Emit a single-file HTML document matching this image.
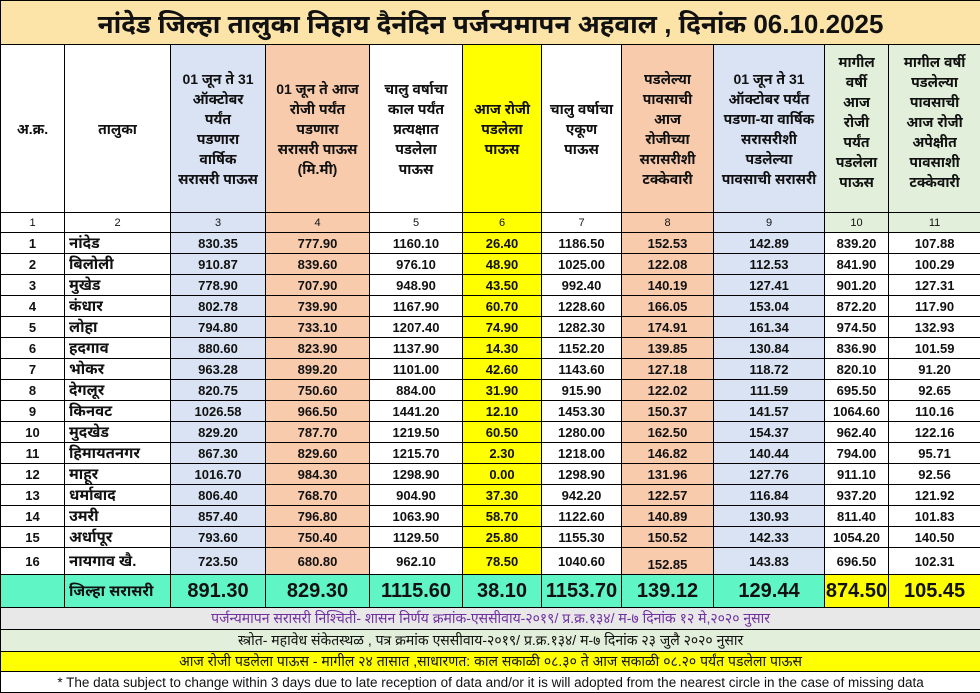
<!DOCTYPE html>
<html><head><meta charset="utf-8"><style>
body{margin:0;width:980px;height:691px;overflow:hidden;background:#fff;font-family:"Liberation Sans","Noto Sans",sans-serif;}
table{border-collapse:collapse;table-layout:fixed;position:absolute;left:0;top:0;width:980px;}
td{border:1px solid #000;padding:0;text-align:center;font-size:13px;font-weight:bold;color:#111;overflow:hidden;white-space:nowrap;}
.t{background:#fce4a8;font-size:26px;height:43px;}
.h td{height:167px;font-size:14px;white-space:nowrap;}
.h td div{height:166px;display:flex;align-items:center;justify-content:center;line-height:20px;overflow:hidden;}
.h td div.top{align-items:flex-start;padding-top:6px;height:160px;}
.n td{height:19px;font-weight:normal;font-size:11px;}
.d td{height:20px;}
.d td:nth-child(2){text-align:left;padding-left:4px;font-size:15px;}
.b{background:#dae3f3}.o{background:#f8cbad}.y{background:#ffff00}.g{background:#e2efda}
.tot td{height:32px;background:#5ff5c4;font-size:20px;}
.tot td.y{background:#ffff00}
.f td{font-weight:normal;font-size:14px;}
</style></head><body>
<table>
<colgroup><col style="width:64px"><col style="width:106px"><col style="width:95px"><col style="width:104px"><col style="width:93px"><col style="width:79px"><col style="width:80px"><col style="width:92px"><col style="width:111px"><col style="width:64px"><col style="width:92px"></colgroup>
<tr><td class="t" colspan="11">नांदेड जिल्हा तालुका निहाय दैनंदिन पर्जन्यमापन अहवाल , दिनांक 06.10.2025</td></tr>
<tr class="h"><td><div>अ.क्र.</div></td><td><div>तालुका</div></td><td class="b"><div>01 जून ते 31<br>ऑक्टोबर<br>पर्यंत<br>पडणारा<br>वार्षिक<br>सरासरी पाऊस</div></td><td class="o"><div>01 जून ते आज<br>रोजी पर्यंत<br>पडणारा<br>सरासरी पाऊस<br>(मि.मी)</div></td><td><div>चालु वर्षाचा<br>काल पर्यंत<br>प्रत्यक्षात<br>पडलेला<br>पाऊस</div></td><td class="y"><div>आज रोजी<br>पडलेला<br>पाऊस</div></td><td><div>चालु वर्षाचा<br>एकूण<br>पाऊस</div></td><td class="o"><div>पडलेल्या<br>पावसाची<br>आज<br>रोजीच्या<br>सरासरीशी<br>टक्केवारी</div></td><td class="b"><div>01 जून ते 31<br>ऑक्टोबर पर्यंत<br>पडणा-या वार्षिक<br>सरासरीशी<br>पडलेल्या<br>पावसाची सरासरी</div></td><td class="g"><div class="top">मागील<br>वर्षी<br>आज<br>रोजी<br>पर्यंत<br>पडलेला<br>पाऊस</div></td><td class="g"><div class="top">मागील वर्षी<br>पडलेल्या<br>पावसाची<br>आज रोजी<br>अपेक्षीत<br>पावसाशी<br>टक्केवारी</div></td></tr>
<tr class="n"><td>1</td><td>2</td><td class="b">3</td><td class="o">4</td><td>5</td><td class="y">6</td><td>7</td><td class="o">8</td><td class="b">9</td><td class="g">10</td><td class="g">11</td></tr>
<tr class="d"><td>1</td><td>नांदेड</td><td class="b">830.35</td><td class="o">777.90</td><td>1160.10</td><td class="y">26.40</td><td>1186.50</td><td class="o">152.53</td><td class="b">142.89</td><td>839.20</td><td>107.88</td></tr>
<tr class="d"><td>2</td><td>बिलोली</td><td class="b">910.87</td><td class="o">839.60</td><td>976.10</td><td class="y">48.90</td><td>1025.00</td><td class="o">122.08</td><td class="b">112.53</td><td>841.90</td><td>100.29</td></tr>
<tr class="d"><td>3</td><td>मुखेड</td><td class="b">778.90</td><td class="o">707.90</td><td>948.90</td><td class="y">43.50</td><td>992.40</td><td class="o">140.19</td><td class="b">127.41</td><td>901.20</td><td>127.31</td></tr>
<tr class="d"><td>4</td><td>कंधार</td><td class="b">802.78</td><td class="o">739.90</td><td>1167.90</td><td class="y">60.70</td><td>1228.60</td><td class="o">166.05</td><td class="b">153.04</td><td>872.20</td><td>117.90</td></tr>
<tr class="d"><td>5</td><td>लोहा</td><td class="b">794.80</td><td class="o">733.10</td><td>1207.40</td><td class="y">74.90</td><td>1282.30</td><td class="o">174.91</td><td class="b">161.34</td><td>974.50</td><td>132.93</td></tr>
<tr class="d"><td>6</td><td>हदगाव</td><td class="b">880.60</td><td class="o">823.90</td><td>1137.90</td><td class="y">14.30</td><td>1152.20</td><td class="o">139.85</td><td class="b">130.84</td><td>836.90</td><td>101.59</td></tr>
<tr class="d"><td>7</td><td>भोकर</td><td class="b">963.28</td><td class="o">899.20</td><td>1101.00</td><td class="y">42.60</td><td>1143.60</td><td class="o">127.18</td><td class="b">118.72</td><td>820.10</td><td>91.20</td></tr>
<tr class="d"><td>8</td><td>देगलूर</td><td class="b">820.75</td><td class="o">750.60</td><td>884.00</td><td class="y">31.90</td><td>915.90</td><td class="o">122.02</td><td class="b">111.59</td><td>695.50</td><td>92.65</td></tr>
<tr class="d"><td>9</td><td>किनवट</td><td class="b">1026.58</td><td class="o">966.50</td><td>1441.20</td><td class="y">12.10</td><td>1453.30</td><td class="o">150.37</td><td class="b">141.57</td><td>1064.60</td><td>110.16</td></tr>
<tr class="d"><td>10</td><td>मुदखेड</td><td class="b">829.20</td><td class="o">787.70</td><td>1219.50</td><td class="y">60.50</td><td>1280.00</td><td class="o">162.50</td><td class="b">154.37</td><td>962.40</td><td>122.16</td></tr>
<tr class="d"><td>11</td><td>हिमायतनगर</td><td class="b">867.30</td><td class="o">829.60</td><td>1215.70</td><td class="y">2.30</td><td>1218.00</td><td class="o">146.82</td><td class="b">140.44</td><td>794.00</td><td>95.71</td></tr>
<tr class="d"><td>12</td><td>माहूर</td><td class="b">1016.70</td><td class="o">984.30</td><td>1298.90</td><td class="y">0.00</td><td>1298.90</td><td class="o">131.96</td><td class="b">127.76</td><td>911.10</td><td>92.56</td></tr>
<tr class="d"><td>13</td><td>धर्माबाद</td><td class="b">806.40</td><td class="o">768.70</td><td>904.90</td><td class="y">37.30</td><td>942.20</td><td class="o">122.57</td><td class="b">116.84</td><td>937.20</td><td>121.92</td></tr>
<tr class="d"><td>14</td><td>उमरी</td><td class="b">857.40</td><td class="o">796.80</td><td>1063.90</td><td class="y">58.70</td><td>1122.60</td><td class="o">140.89</td><td class="b">130.93</td><td>811.40</td><td>101.83</td></tr>
<tr class="d"><td>15</td><td>अर्धापूर</td><td class="b">793.60</td><td class="o">750.40</td><td>1129.50</td><td class="y">25.80</td><td>1155.30</td><td class="o">150.52</td><td class="b">142.33</td><td>1054.20</td><td>140.50</td></tr>
<tr class="d"><td style="height:25px">16</td><td>नायगाव खै.</td><td class="b">723.50</td><td class="o">680.80</td><td>962.10</td><td class="y">78.50</td><td>1040.60</td><td class="o" style="padding-top:6px">152.85</td><td class="b">143.83</td><td>696.50</td><td>102.31</td></tr>
<tr class="tot"><td></td><td style="font-size:15px;text-align:left;padding-left:4px">जिल्हा सरासरी</td><td>891.30</td><td>829.30</td><td>1115.60</td><td>38.10</td><td>1153.70</td><td>139.12</td><td>129.44</td><td class="y">874.50</td><td class="y">105.45</td></tr>
<tr class="f"><td colspan="11" style="height:21px;background:#e8e8e8;color:#7030a0">पर्जन्यमापन सरासरी निश्चिती- शासन निर्णय क्रमांक-एससीवाय-२०१९/ प्र.क्र.१३४/ म-७ दिनांक १२ मे,२०२० नुसार</td></tr>
<tr class="f"><td colspan="11" style="height:21px;background:#e2efda">स्त्रोत- महावेध संकेतस्थळ , पत्र क्रमांक एससीवाय-२०१९/ प्र.क्र.१३४/ म-७ दिनांक २३ जुलै २०२० नुसार</td></tr>
<tr class="f"><td colspan="11" style="height:19px;background:#ffff00">आज रोजी पडलेला पाऊस - मागील २४ तासात ,साधारणत: काल सकाळी ०८.३० ते आज सकाळी ०८.२० पर्यंत पडलेला पाऊस</td></tr>
<tr class="f"><td colspan="11" style="height:20px;background:#fff;font-size:13.5px">* The data subject to change within 3 days due to late reception of data and/or it is will adopted from the nearest circle in the case of missing data</td></tr>
</table>
</body></html>
